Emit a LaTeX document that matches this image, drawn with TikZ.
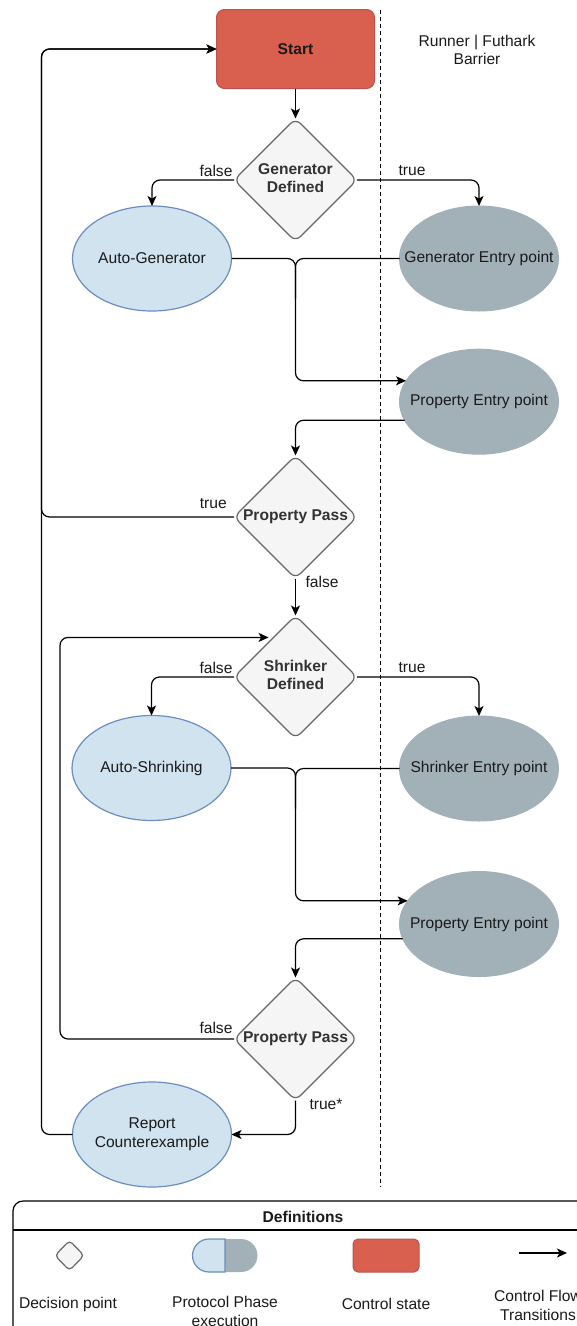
\documentclass[tikz,border=0pt]{standalone}
\usepackage{fontspec}
\setmainfont{Liberation Sans}
\usetikzlibrary{shapes.geometric,arrows.meta}
\definecolor{startfill}{HTML}{D95F4E}
\definecolor{startstroke}{HTML}{B85450}
\definecolor{bluefill}{HTML}{D0E3EF}
\definecolor{bluestroke}{HTML}{6C8EBF}
\definecolor{grayfill}{HTML}{A2B0B8}
\definecolor{decfill}{HTML}{F5F5F5}
\definecolor{decstroke}{HTML}{666666}
\definecolor{dectext}{HTML}{333333}
\definecolor{txt}{HTML}{1A1A1A}
\newcommand{\zw}[1]{\makebox[0pt][c]{\raisebox{-2pt}{#1}}}
\newcommand{\twol}[2]{\raisebox{-1.5pt}{\begin{tabular}{@{}c@{}}#1\\#2\end{tabular}}}
\begin{document}
\begin{tikzpicture}[x=1pt,y=-1pt,
  font=\fontsize{15.6}{18.5}\selectfont,
  every node/.style={inner sep=0pt, outer sep=0pt, text=txt},
  tip/.style={-{Stealth[length=10pt,width=9pt,inset=2.5pt]}},
  flow/.style={draw=black, line width=1.2pt, rounded corners=8pt, tip},
  plain/.style={draw=black, line width=1.2pt, rounded corners=8pt},
  startbox/.style={rectangle, rounded corners=8pt, fill=startfill, draw=startstroke, line width=1pt, minimum width=158pt, minimum height=79pt},
  dec/.style={diamond, draw=decstroke, fill=decfill, line width=1.2pt, minimum width=123pt, minimum height=123pt, rounded corners=7pt, text=dectext, font=\fontsize{15.6}{18.5}\selectfont\bfseries},
  phase/.style={ellipse, draw=bluestroke, fill=bluefill, line width=1.2pt, minimum width=159pt, minimum height=105pt},
  entry/.style={ellipse, draw=grayfill, fill=grayfill, line width=1pt, minimum width=159pt, minimum height=105pt},
  lbl/.style={}
]
\useasboundingbox (0,0) rectangle (577,1326);
\clip (0,0) rectangle (577,1326);
\fill[white] (0,0) rectangle (577,1326);

% barrier
\draw[line width=1pt, dash pattern=on 4pt off 3pt] (380.7,10) -- (380.7,1187);
\node (barrier) at (477,52) {\twol{Runner | Futhark}{Barrier}};

% nodes
\node[startbox] (start) at (295.5,49) {\raisebox{-1pt}{\textbf{Start}}};
\node[dec] (d1) at (295.5,180) {\zw{\twol{Generator}{Defined}}};
\node[phase] (ag) at (152,258.5) {\zw{Auto-Generator}};
\node[entry] (ge) at (479,258.5) {\zw{Generator Entry point}};
\node[entry] (pe1) at (479,401.7) {\zw{Property Entry point}};
\node[dec] (d2) at (295.5,517) {\zw{Property Pass}};
\node[dec] (d3) at (295.5,677) {\zw{\twol{Shrinker}{Defined}}};
\node[phase] (as) at (151.5,768) {\zw{Auto-Shrinking}};
\node[entry] (se) at (479,768.5) {\zw{Shrinker Entry point}};
\node[entry] (pe2) at (479,924) {\zw{Property Entry point}};
\node[dec] (d4) at (295.5,1039) {\zw{Property Pass}};
\node[phase] (rc) at (152,1134.5) {\zw{\twol{Report}{Counterexample}}};

\coordinate (lx) at (41.5,0);
\coordinate (lx2) at (60,0);

% connectors
\draw[flow] (start.south) -- (d1.north);
\draw[flow] (d1.west) -| (ag.north);
\draw[flow] (d1.east) -| (ge.north);
\draw[flow] (ag.east) -| (d1.south |- pe1.164) -- (pe1.164);
\draw[plain] (ge.west) -| ([yshift=-40pt]d1.south |- ge.west);
\draw[flow] (pe1.194) -| (d2.north);
\draw[flow] (d2.west) -| (lx |- start.west) -- (start.west);
\draw[flow] (rc.west) -| (lx |- start.west) -- (start.west);
\draw[flow] (d2.south) -- (d3.north);
\draw[flow] (d3.west) -| (as.north);
\draw[flow] (d3.east) -| (se.north);
\draw[flow] (as.east) -| (d3.south |- pe2.162) -- (pe2.162);
\draw[plain] (se.west) -| ([yshift=-40pt]d3.south |- se.west);
\draw[flow] (pe2.191) -| (d4.north);
\draw[flow] (d4.west) -| (lx2 |- d3.119) -- ([xshift=-5pt]d3.119);
\draw[flow] (d4.south) |- (rc.east);

% edge labels
\node[lbl] (l1) at (216,170.7) {false};
\node[lbl] (l2) at (412,170.7) {true};
\node[lbl] (l3) at (213.3,504) {true};
\node[lbl] (l4) at (322,582) {false};
\node[lbl] (l5) at (216,667.7) {false};
\node[lbl] (l6) at (412,667.7) {true};
\node[lbl] (l7) at (216,1027.7) {false};
\node[lbl] (l8) at (326,1104) {true*};

% legend
\draw[line width=1.2pt, rounded corners=10pt] (13,1201) rectangle (593,1380);
\draw[line width=1.2pt] (13,1230) -- (593,1230);
\node (deft) at (303,1217) {\bfseries Definitions};
\node[dec, minimum width=29pt, minimum height=30pt, rounded corners=4pt] (ldec) at (69.5,1255.5) {};
\path[fill=bluefill] (225,1239) -- (209,1239) arc[start angle=270, end angle=90, radius=16.5] -- (225,1272) -- cycle;
\path[fill=grayfill] (225,1239) -- (241,1239) arc[start angle=-90, end angle=90, radius=16.5] -- (225,1272) -- cycle;
\draw[bluestroke, line width=1.2pt] (225,1239) -- (209,1239) arc[start angle=270, end angle=90, radius=16.5] -- (225,1272) -- cycle;
\node[startbox, minimum width=66pt, minimum height=33pt, rounded corners=5pt] (lrect) at (386,1255.5) {};
\coordinate (la1) at (519,1253);
\coordinate (la2) at (567,1253);
\draw[line width=1.2pt, tip] (la1) -- (la2);
\node (t1) at (68,1304) {Decision point};
\node (t2) at (225,1313.5) {\twol{Protocol Phase}{execution}};
\node (t3) at (386,1304) {Control state};
\node (t4) at (538,1307.5) {\twol{Control Flow}{Transitions}};
\end{tikzpicture}
\end{document}
